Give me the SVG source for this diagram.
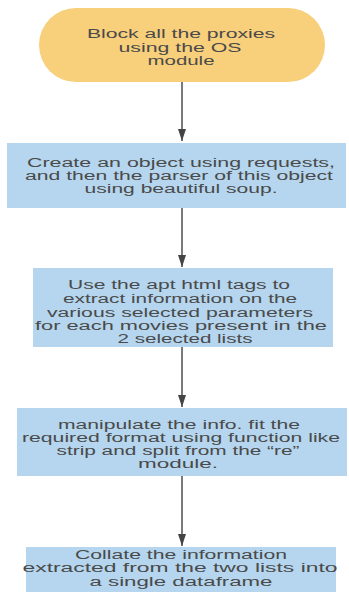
<svg xmlns="http://www.w3.org/2000/svg" width="349" height="592" viewBox="0 0 349 592">
  <style>
    .start { fill: #f8cf7b; }
    .step { fill: #b5d6ee; }
    .lbl { font-family: "Liberation Sans", Arial, sans-serif; font-size: 12px; fill: #4a4a4a; text-anchor: middle; }
    .wire { stroke: #7a7a7a; stroke-width: 2; fill: none; }
  </style>
  <defs>
    <marker id="arrow" viewBox="0 0 12 8" refX="12" refY="4" markerWidth="12" markerHeight="8" markerUnits="userSpaceOnUse" orient="auto">
      <path d="M0,0 L12,4 L0,8 Z" fill="#444444"/>
    </marker>
  </defs>
  <rect width="349" height="592" fill="#ffffff"/>

  <g id="connectors">
    <line class="wire" x1="182" y1="82" x2="182" y2="141" marker-end="url(#arrow)"/>
    <line class="wire" x1="182" y1="208" x2="182" y2="267" marker-end="url(#arrow)"/>
    <line class="wire" x1="182" y1="347" x2="182" y2="407" marker-end="url(#arrow)"/>
    <line class="wire" x1="182" y1="476" x2="182" y2="546" marker-end="url(#arrow)"/>
  </g>

  <g id="block-proxies">
    <rect class="start" x="39" y="8" width="286" height="74" rx="37" ry="37"/>
    <text class="lbl" x="181" y="38" textLength="188" lengthAdjust="spacingAndGlyphs">Block all the proxies</text>
    <text class="lbl" x="180" y="52" textLength="123" lengthAdjust="spacingAndGlyphs">using the OS</text>
    <text class="lbl" x="181" y="65" textLength="67" lengthAdjust="spacingAndGlyphs">module</text>
  </g>

  <g id="create-object">
    <rect class="step" x="7" y="143" width="339" height="65"/>
    <text class="lbl" x="181" y="167" textLength="308" lengthAdjust="spacingAndGlyphs">Create an object using requests,</text>
    <text class="lbl" x="179" y="180" textLength="308" lengthAdjust="spacingAndGlyphs">and then the parser of this object</text>
    <text class="lbl" x="181" y="193" textLength="193" lengthAdjust="spacingAndGlyphs">using beautiful soup.</text>
  </g>

  <g id="extract-tags">
    <rect class="step" x="33" y="268" width="300" height="79"/>
    <text class="lbl" x="179" y="289" textLength="222" lengthAdjust="spacingAndGlyphs">Use the apt html tags to</text>
    <text class="lbl" x="180" y="303" textLength="234" lengthAdjust="spacingAndGlyphs">extract information on the</text>
    <text class="lbl" x="180" y="317" textLength="266" lengthAdjust="spacingAndGlyphs">various selected parameters</text>
    <text class="lbl" x="181" y="330" textLength="292" lengthAdjust="spacingAndGlyphs">for each movies present in the</text>
    <text class="lbl" x="185" y="343" textLength="135" lengthAdjust="spacingAndGlyphs">2 selected lists</text>
  </g>

  <g id="manipulate-info">
    <rect class="step" x="17" y="408" width="330" height="68"/>
    <text class="lbl" x="179" y="429" textLength="242" lengthAdjust="spacingAndGlyphs">manipulate the info. fit the</text>
    <text class="lbl" x="181" y="442" textLength="318" lengthAdjust="spacingAndGlyphs">required format using function like</text>
    <text class="lbl" x="178" y="455" textLength="243" lengthAdjust="spacingAndGlyphs">strip and split from the “re”</text>
    <text class="lbl" x="178" y="468" textLength="80" lengthAdjust="spacingAndGlyphs">module.</text>
  </g>

  <g id="collate">
    <rect class="step" x="26" y="547" width="310" height="50"/>
    <text class="lbl" x="181" y="559" textLength="212" lengthAdjust="spacingAndGlyphs">Collate the information</text>
    <text class="lbl" x="180" y="572" textLength="315" lengthAdjust="spacingAndGlyphs">extracted from the two lists into</text>
    <text class="lbl" x="181" y="586" textLength="183" lengthAdjust="spacingAndGlyphs">a single dataframe</text>
  </g>
</svg>
